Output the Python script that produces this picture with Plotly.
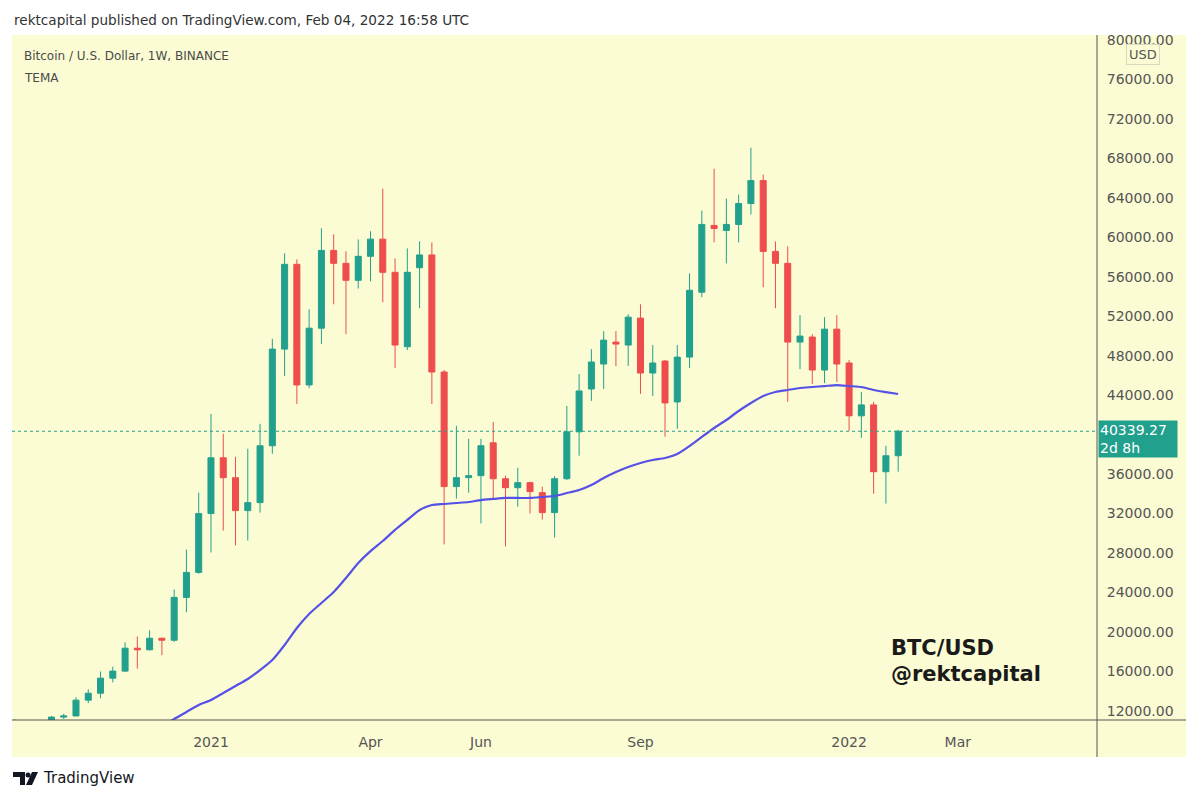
import pandas as pd
import plotly.graph_objects as go

# weekly BTC/USD candles, Binance, week of 2020-09-14 .. 2022-01-31
weeks = pd.date_range('2020-09-14', '2022-01-31', freq='W-MON')

opens = [10300, 10920, 10780, 10670, 11380, 11500, 13100, 13800, 15330, 16040, 18360, 18200,
         19370, 19170, 23510, 26040,
         32000, 37650, 35630, 32300, 33110, 38870, 48660, 57250, 45030, 50780, 58660, 57350,
         55630, 58060, 59800, 56440, 48900, 56900, 58200, 46340, 34730, 35640, 35840, 39170,
         35530, 34620, 35130, 34120, 32100, 35530, 40280, 44620, 47150, 49370, 49070, 51800,
         46240, 47450, 43310, 47850, 54420, 61190, 60680, 61290, 63410, 65730, 58560, 57350,
         49370, 49880, 46540, 50680,
         47250, 41900, 43010, 36240, 37860]
highs = [11180, 11000, 10960, 11500, 11720, 13400, 14200, 16000, 16500, 18950, 19550, 20180,
         19420, 24300, 28350, 34120,
         42100, 40080, 37760, 38560, 41090, 49700, 58360, 57750, 52700, 60900, 60280, 58560,
         59770, 60600, 64920, 57850, 58860, 59570, 59470, 46540, 40890, 39570, 39570, 41290,
         35840, 36640, 35230, 34720, 35800, 42900, 46140, 48660, 50480, 50480, 52200, 53200,
         49070, 47550, 49070, 56340, 62700, 66940, 63910, 64320, 69060, 66340, 59570, 59070,
         52100, 50180, 51900, 52100,
         47550, 44320, 43310, 38870, 40480]
lows = [10200, 10150, 10530, 10600, 11200, 11450, 12800, 13300, 14900, 15950, 16300, 18150,
        17650, 19000, 22000, 25900,
        28060, 30280, 28770, 29270, 32100, 38060, 45940, 43100, 44700, 49170, 53200, 50180,
        54800, 55530, 53400, 46740, 48560, 52800, 43100, 28870, 33510, 34120, 31000, 33510,
        28670, 32700, 32000, 31390, 29570, 35400, 37860, 43410, 44620, 46950, 46950, 44120,
        43920, 39780, 40580, 46740, 53920, 59470, 57350, 59470, 62300, 54930, 52800, 43310,
        46640, 45130, 45230, 45330,
        40380, 39670, 34020, 33010, 36240]
closes = [10920, 10780, 10670, 11380, 11500, 13100, 13800, 15330, 16040, 18360, 18200, 19370,
          19170, 23510, 26040, 32000,
          37650, 35630, 32300, 33110, 38870, 48660, 57250, 45030, 50780, 58660, 57350, 55630,
          58060, 59800, 56440, 49070, 56440, 58200, 46340, 34730, 35640, 35840, 38870, 35530,
          34620, 35130, 34220, 32100, 35530, 40280, 44420, 47350, 49570, 49170, 51900, 46240,
          47250, 43210, 47850, 54620, 61290, 60880, 61290, 63410, 65730, 58560, 57350, 49370,
          49980, 46540, 50680, 47150,
          41900, 43010, 36240, 37860, 40339.27]

# TEMA, from the week of 2020-12-07 onward
tema = [10380, 11190, 11900, 12610,
        13110, 13820, 14530, 15240, 16150, 17170, 18690, 20410, 21830, 22940, 24050, 25470,
        26990, 28200, 29220, 30340, 31350, 32360, 32870, 32970, 33070, 33170, 33370, 33480,
        33580, 33580, 33580, 33680, 33780, 34080, 34390, 34890, 35600, 36210, 36720, 37120,
        37430, 37630, 38030, 38840, 39760, 40670, 41480, 42390, 43200, 43910, 44310, 44520,
        44720, 44820, 44920, 45020,
        44920, 44820, 44520, 44310, 44110]
tema_weeks = weeks[12:]

last_price = 40339.27
price_ticks = [12000, 16000, 20000, 24000, 28000, 32000, 36000, 44000, 48000, 52000,
               56000, 60000, 64000, 68000, 72000, 76000, 80000]
time_ticks = ['2021-01-04', '2021-04-05', '2021-06-07', '2021-09-06', '2022-01-03', '2022-03-06']
time_labels = ['2021', 'Apr', 'Jun', 'Sep', '2022', 'Mar']

UP = '#22a08e'
DOWN = '#ee4d4d'
BG = '#fbfcd3'
FONT = 'DejaVu Sans'

# the page body has an 8px margin, so the figure is drawn 8px smaller / shifted
OFF = 8
W, H = 1200 - 2 * OFF, 801 - 2 * OFF
# plot area in screen pixels: x 12..1097, y 35..720
L, R, T, B = 12, 1097, 35, 720


def px(x):
    return (x - L) / (R - L)


def py(y):
    return (B - y) / (B - T)


fig = go.Figure()

fig.add_trace(go.Candlestick(
    x=weeks, open=opens, high=highs, low=lows, close=closes,
    line=dict(width=1),
    increasing_fillcolor=UP, increasing_line_color=UP,
    decreasing_fillcolor=DOWN, decreasing_line_color=DOWN,
    whiskerwidth=0, showlegend=False
))

fig.add_trace(go.Scatter(
    x=tema_weeks, y=tema, mode='lines',
    line=dict(color='#5651e6', width=2.2, shape='spline', smoothing=0.6),
    showlegend=False
))

fig.update_xaxes(
    type='date',
    range=['2020-09-12 12:00', '2022-05-24 10:00'],
    rangeslider=dict(visible=False),
    showgrid=False, zeroline=False,
    tickvals=time_ticks, ticktext=time_labels,
    ticks='outside', ticklen=9, tickcolor='rgba(0,0,0,0)',
    tickfont=dict(family=FONT, size=14, color='#555555')
)

fig.update_yaxes(
    side='right',
    range=[11088, 80480],
    showgrid=False, zeroline=False,
    tickvals=price_ticks, tickformat='.2f',
    ticks='outside', ticklen=6, tickcolor='rgba(0,0,0,0)',
    tickfont=dict(family=FONT, size=14, color='#555555')
)

shapes = [
    # yellow chart panel incl. price and time scales
    dict(type='rect', xref='paper', yref='paper', x0=px(12), x1=px(1186), y0=py(757), y1=py(35),
         fillcolor=BG, line=dict(width=0), layer='below'),
    dict(type='line', xref='paper', yref='paper', x0=px(1097), x1=px(1097), y0=py(757), y1=py(35),
         line=dict(color='#555555', width=1)),
    dict(type='line', xref='paper', yref='paper', x0=px(12), x1=px(1186), y0=0, y1=0,
         line=dict(color='#555555', width=1)),
    # last price line
    dict(type='line', xref='paper', yref='y', x0=0, x1=1, y0=last_price, y1=last_price,
         line=dict(color=UP, width=1, dash='dot')),
    # TradingView logo
    dict(type='path', xref='paper', yref='paper',
         path=f'M {px(13)} {py(772)} L {px(25)} {py(772)} L {px(25)} {py(785)} L {px(20)} {py(785)} '
              f'L {px(20)} {py(777)} L {px(13)} {py(777)} Z',
         fillcolor='#131722', line=dict(width=0)),
    dict(type='circle', xref='paper', yref='paper', x0=px(25.5), x1=px(30.5), y0=py(777.5), y1=py(772.5),
         fillcolor='#131722', line=dict(width=0)),
    dict(type='path', xref='paper', yref='paper',
         path=f'M {px(32)} {py(772)} L {px(38)} {py(772)} L {px(32)} {py(785)} L {px(26)} {py(785)} Z',
         fillcolor='#131722', line=dict(width=0)),
]

annotations = [
    dict(text='rektcapital published on TradingView.com, Feb 04, 2022 16:58 UTC',
         xref='paper', yref='paper', x=px(12), y=py(20), xanchor='left', yanchor='middle',
         showarrow=False, font=dict(family=FONT, size=13.6, color='#333333')),
    dict(text='Bitcoin / U.S. Dollar, 1W, BINANCE',
         xref='paper', yref='paper', x=px(22), y=py(56), xanchor='left', yanchor='middle',
         showarrow=False, font=dict(family=FONT, size=12, color='#4a4a4a')),
    dict(text='TEMA',
         xref='paper', yref='paper', x=px(22), y=py(78), xanchor='left', yanchor='middle',
         showarrow=False, font=dict(family=FONT, size=12, color='#4a4a4a')),
    dict(text='<b>BTC/USD</b>',
         xref='paper', yref='paper', x=px(889), y=py(648), xanchor='left', yanchor='middle',
         showarrow=False, font=dict(family=FONT, size=21, color='#1a1a1a')),
    dict(text='<b>@rektcapital</b>',
         xref='paper', yref='paper', x=px(889), y=py(674), xanchor='left', yanchor='middle',
         showarrow=False, font=dict(family=FONT, size=21, color='#1a1a1a')),
    dict(text='40339.27<br>2d 8h',
         xref='paper', yref='y', x=px(1098), y=last_price, yshift=-8,
         xanchor='left', yanchor='middle', align='left', showarrow=False,
         bgcolor=UP, width=76, height=34, borderpad=1,
         font=dict(family=FONT, size=14, color='#ffffff')),
    dict(text='USD',
         xref='paper', yref='paper', x=px(1143), y=py(54), xanchor='center', yanchor='middle',
         showarrow=False, bgcolor=BG, bordercolor='#d8d8c0', borderwidth=1, borderpad=2,
         font=dict(family=FONT, size=13, color='#555555')),
    dict(text='TradingView',
         xref='paper', yref='paper', x=px(41), y=py(778), xanchor='left', yanchor='middle',
         showarrow=False, font=dict(family=FONT, size=15, color='#131722')),
]

fig.update_layout(
    width=W, height=H,
    margin=dict(l=L - OFF, r=W - (R - OFF), t=T - OFF, b=H - (B - OFF)),
    paper_bgcolor='#ffffff', plot_bgcolor=BG,
    shapes=shapes, annotations=annotations,
    showlegend=False, hovermode=False
)

fig.write_html('out.html')
